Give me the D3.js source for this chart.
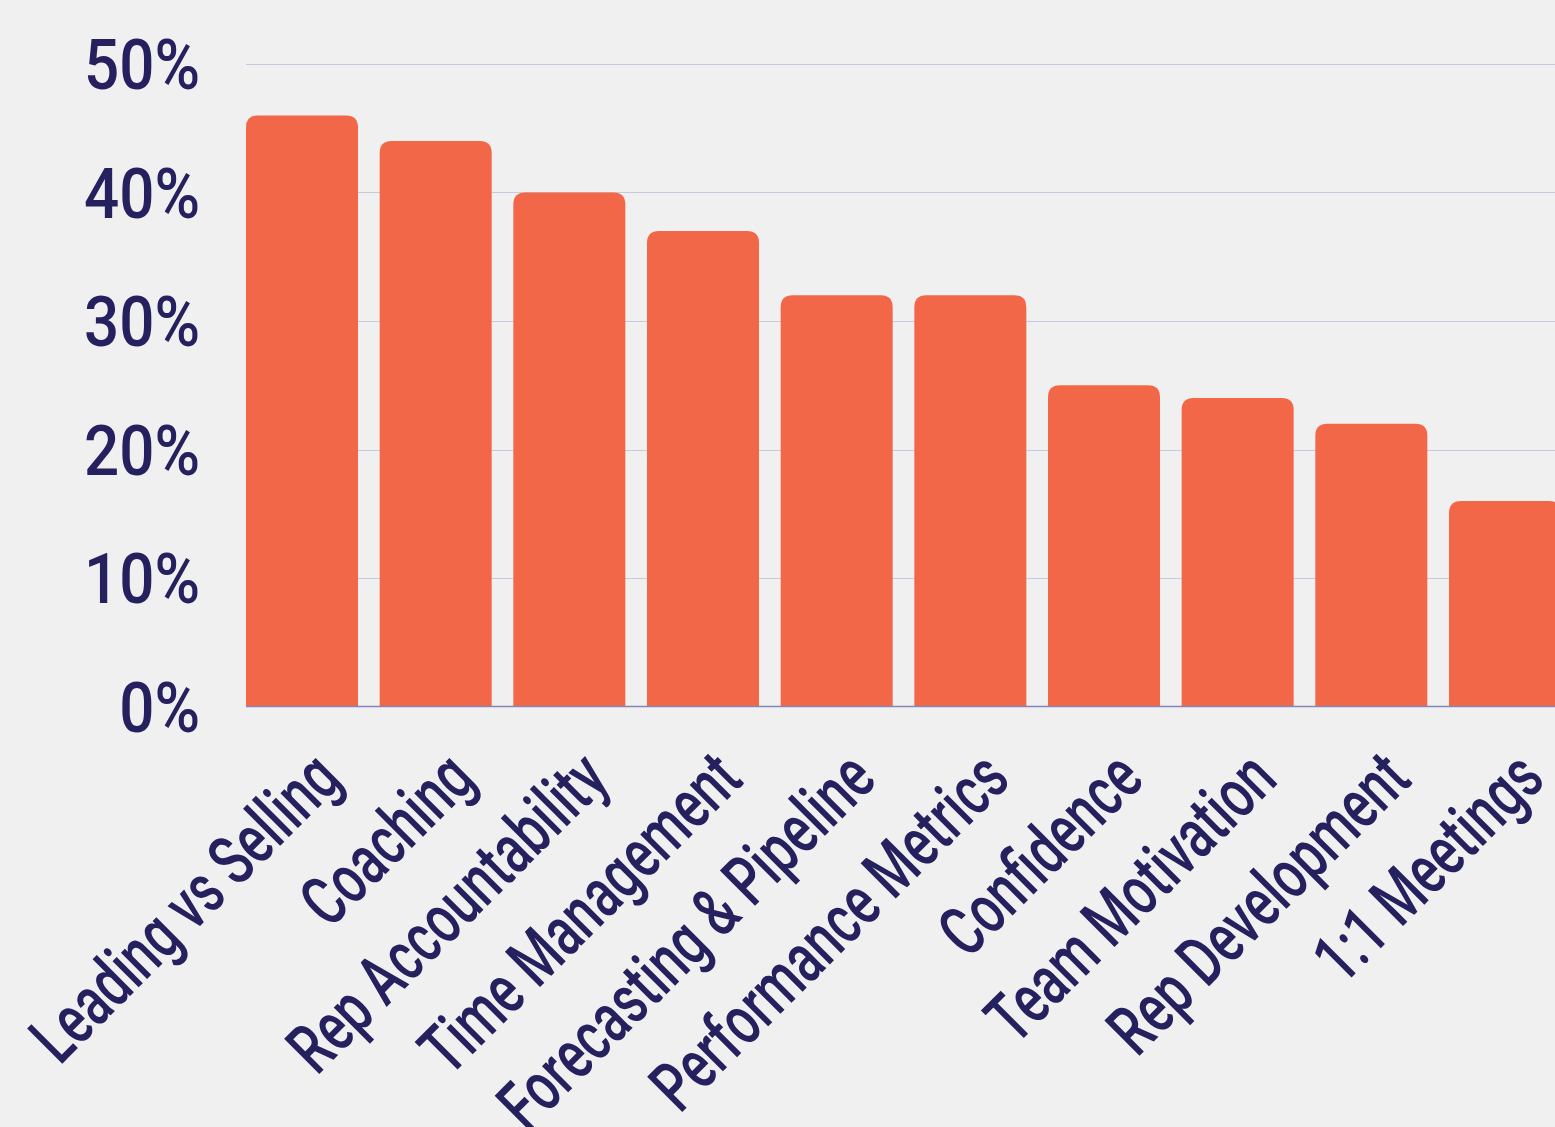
<!DOCTYPE html>
<html>
<head>
<meta charset="utf-8">
<script src="https://cdn.jsdelivr.net/npm/d3@7"></script>
<style>
  html, body { margin: 0; padding: 0; background: #f0f0f0; overflow: hidden; }
  svg { display: block; }
  text { font-family: Roboto, "Noto Sans", sans-serif; font-weight: 500; fill: #24215e; }
</style>
</head>
<body>
<svg id="chart" width="1555" height="1127"></svg>
<script>
const categories = ["Leading vs Selling", "Coaching", "Rep Accountability", "Time Management",
  "Forecasting & Pipeline", "Performance Metrics", "Confidence", "Team Motivation",
  "Rep Development", "1:1 Meetings"];
const values = [46, 44, 40, 37, 32, 32, 25, 24, 22, 16];
const yTicks = [0, 10, 20, 30, 40, 50];
const yTickLabels = ["0%", "10%", "20%", "30%", "40%", "50%"];

const svg = d3.select("#chart");
const W = 1555, H = 1127;
svg.append("rect").attr("width", W).attr("height", H).attr("fill", "#f0f0f0");

const x = d3.scaleBand().domain(categories).range([246, 1561]).paddingInner(0.162).paddingOuter(0);
const y = d3.scaleLinear().domain([0, 50]).range([706.5, 64]);

// gridlines
svg.append("g").selectAll("line").data(yTicks.filter(t => t > 0)).join("line")
  .attr("x1", 246).attr("x2", 1561)
  .attr("y1", d => Math.round(y(d)) + 0.5).attr("y2", d => Math.round(y(d)) + 0.5)
  .attr("stroke", "#cac8dd").attr("stroke-width", 1.2);

// y tick labels
svg.append("g").selectAll("text").data(yTicks).join("text")
  .attr("transform", d => `translate(200,${y(d)}) scale(0.885,1)`)
  .attr("text-anchor", "end")
  .attr("dy", 25)
  .attr("font-size", 70)
  .text((d, i) => yTickLabels[i]);

// bars with rounded top corners
const r = 12;
function barPath(x0, w, yTop, yBase) {
  return `M${x0},${yBase}V${yTop + r}Q${x0},${yTop} ${x0 + r},${yTop}H${x0 + w - r}Q${x0 + w},${yTop} ${x0 + w},${yTop + r}V${yBase}Z`;
}
svg.append("g").selectAll("path").data(categories).join("path")
  .attr("d", (c, i) => barPath(x(c), x.bandwidth(), y(values[i]), y(0)))
  .attr("fill", "#f26748");

// baseline
svg.append("line").attr("x1", 246).attr("x2", 1561)
  .attr("y1", 706.5).attr("y2", 706.5)
  .attr("stroke", "#8784b8").attr("stroke-width", 1.3);

// x labels
svg.append("g").selectAll("text").data(categories).join("text")
  .attr("transform", c => `translate(${x(c) + x.bandwidth() / 2 + 42},782) rotate(-45) scale(0.71,1)`)
  .attr("text-anchor", "end")
  .attr("font-size", 70)
  .text(c => c);
</script>
</body>
</html>
